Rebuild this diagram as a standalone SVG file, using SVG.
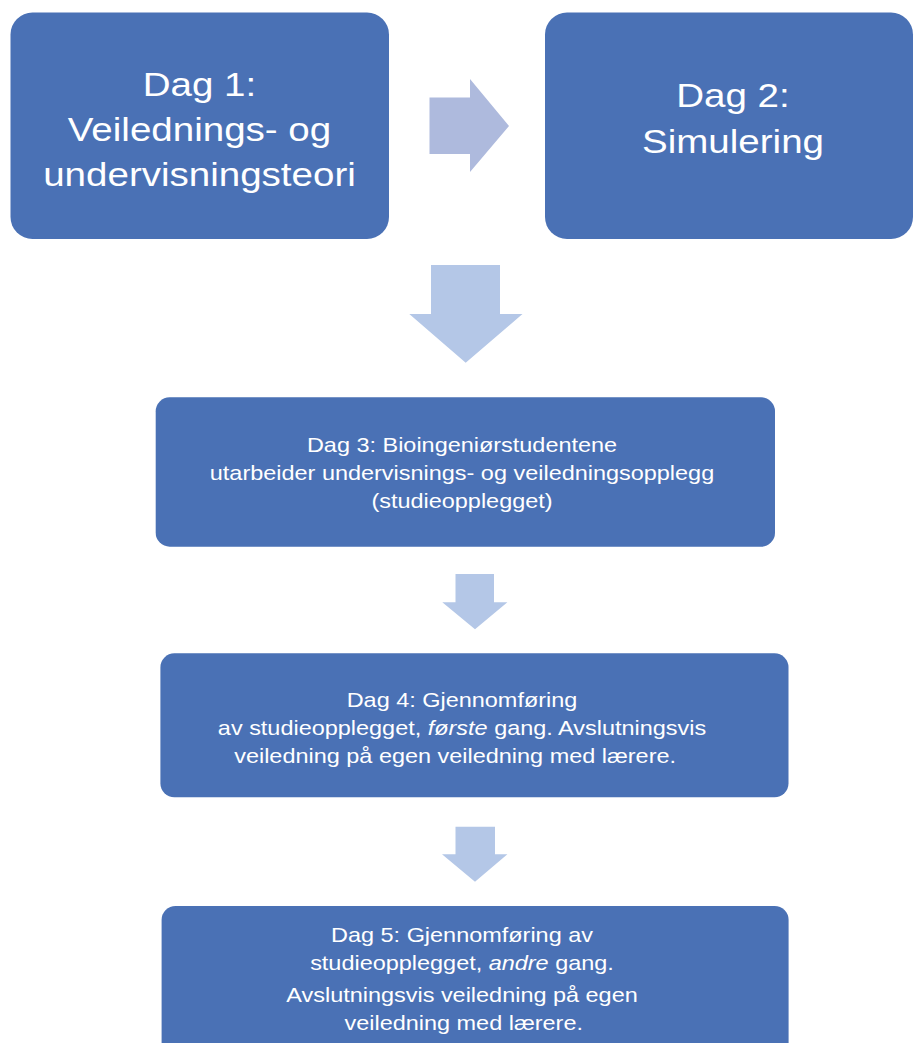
<svg xmlns="http://www.w3.org/2000/svg" width="914" height="1043" viewBox="0 0 914 1043">
  <style>
    .box { fill: #4A71B5; }
    .arr { fill: #B4C7E7; }
    .arr-r { fill: #AEBADD; }
    text { font-family: "Liberation Sans", Arial, Helvetica, sans-serif; fill: #FFFFFF; text-anchor: middle; }
    .big { font-size: 33.5px; }
    .small { font-size: 20.4px; }
    .it { font-style: italic; }
  </style>
  <rect width="914" height="1043" fill="#FFFFFF"/>
  <g id="connectors">
    <polygon class="arr-r" points="429.5,97.5 470,97.5 470,79 509,126 470,172 470,154 429.5,154"/>
    <polygon class="arr" points="431,265 500,265 500,314 522.5,314 465.7,362.7 409.3,314 431,314"/>
    <polygon class="arr" points="455.5,574 494,574 494,602.3 507.4,602.3 475,629.3 442.3,602.3 455.5,602.3"/>
    <polygon class="arr" points="455.5,826.7 495,826.7 495,854.3 507.4,854.3 475,881.7 442,854.3 455.5,854.3"/>
  </g>
  <g id="node-dag1">
    <rect class="box" x="10.5" y="12.5" width="378.5" height="226.5" rx="22" ry="22"/>
    <g transform="translate(199.5,0) scale(1.15,1)">
      <text class="big" x="0" y="96">Dag 1:</text>
      <text class="big" x="0" y="141">Veilednings- og</text>
      <text class="big" x="0" y="186">undervisningsteori</text>
    </g>
  </g>
  <g id="node-dag2">
    <rect class="box" x="545" y="12.5" width="368" height="226.5" rx="22" ry="22"/>
    <g transform="translate(733,0) scale(1.15,1)">
      <text class="big" x="0" y="107">Dag 2:</text>
      <text class="big" x="0" y="153">Simulering</text>
    </g>
  </g>
  <g id="node-dag3">
    <rect class="box" x="155.7" y="397.3" width="619.3" height="149.4" rx="14" ry="14"/>
    <g transform="translate(462,0) scale(1.15,1)">
      <text class="small" x="0" y="452.3">Dag 3: Bioingeniørstudentene</text>
      <text class="small" x="0" y="480.3">utarbeider undervisnings- og veiledningsopplegg</text>
      <text class="small" x="0" y="508.3">(studieopplegget)</text>
    </g>
  </g>
  <g id="node-dag4">
    <rect class="box" x="160.4" y="653.3" width="628.1" height="144" rx="14" ry="14"/>
    <g transform="translate(462,0) scale(1.15,1)">
      <text class="small" x="0" y="706.7">Dag 4: Gjennomføring</text>
      <text class="small" x="0" y="735">av studieopplegget, <tspan class="it">første</tspan> gang. Avslutningsvis</text>
      <text class="small" x="-6" y="762.7">veiledning på egen veiledning med lærere.</text>
    </g>
  </g>
  <g id="node-dag5">
    <rect class="box" x="161.6" y="906" width="627" height="160" rx="14" ry="14"/>
    <g transform="translate(462,0) scale(1.15,1)">
      <text class="small" x="0" y="942">Dag 5: Gjennomføring av</text>
      <text class="small" x="0" y="970">studieopplegget, <tspan class="it">andre</tspan> gang.</text>
      <text class="small" x="0" y="1002">Avslutningsvis veiledning på egen</text>
      <text class="small" x="1.5" y="1030">veiledning med lærere.</text>
    </g>
  </g>
</svg>
